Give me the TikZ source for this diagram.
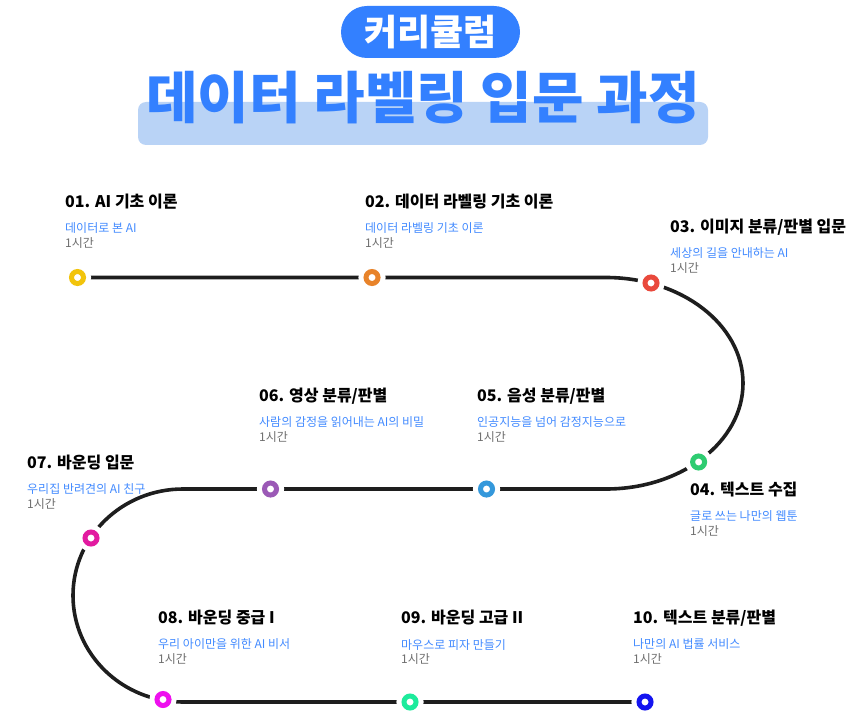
\documentclass[tikz,border=0pt]{standalone}
\usepackage{fontspec}
\setmainfont{Noto Sans CJK KR}
\newfontfamily\krblack{Noto Sans CJK KR Black}
\definecolor{brand}{RGB}{51,128,255}
\definecolor{barc}{RGB}{185,211,246}
\definecolor{subc}{RGB}{66,138,255}
\definecolor{hourc}{RGB}{110,110,110}
\definecolor{trackc}{RGB}{30,30,30}
\definecolor{c1}{RGB}{242,196,12}
\definecolor{c2}{RGB}{232,131,42}
\definecolor{c3}{RGB}{233,73,60}
\definecolor{c4}{RGB}{46,204,113}
\definecolor{c5}{RGB}{52,152,219}
\definecolor{c6}{RGB}{155,89,182}
\definecolor{c7}{RGB}{226,27,160}
\definecolor{c8}{RGB}{238,16,238}
\definecolor{c9}{RGB}{29,235,156}
\definecolor{c10}{RGB}{20,20,240}
\tikzset{
  steptitle/.style={anchor=west, inner sep=0pt, font=\bfseries\fontsize{16}{18}\selectfont, text=black},
  stepsub/.style={anchor=west, inner sep=0pt, font=\fontsize{12}{14}\selectfont, text=subc},
  stephour/.style={anchor=west, inner sep=0pt, font=\fontsize{12}{14}\selectfont, text=hourc},
  marker/.style={circle, draw=#1, line width=5pt, fill=white, inner sep=0pt, minimum size=12pt,
    preaction={draw=white, line width=15pt}},
  track/.style={line width=3.6pt, draw=trackc},
}
\newcommand\stage[5]{%
  \node[steptitle] (t#1) at (#2,-#3) {#4};
  \node[stepsub] (s#1) at (#2,-#3-26.5) {#5};
  \node[stephour] (h#1) at (#2,-#3-41) {1시간};
}
\begin{document}
\begin{tikzpicture}[x=1pt,y=1pt]
\useasboundingbox (0,0) rectangle (864,-722);
% header
\node[fill=brand, rounded corners=26pt, minimum width=179pt, minimum height=52pt, inner sep=0pt,
  text=white, font=\krblack\fontsize{36}{36}\selectfont] (pill) at (430.5,-32) {커리큘럼};
\node[fill=barc, rounded corners=8pt, minimum width=570pt, minimum height=43pt, inner sep=0pt] (bar) at (423,-123.5) {};
\node[text=brand, inner sep=0pt, font=\krblack\fontsize{56}{56}\selectfont] (title) at (423,-97.5) {데이터 라벨링 입문 과정};
% track
\coordinate (p1) at (77.5,-277.5);
\coordinate (p10) at (645,-702);
\draw[track] (p1) -- (606,-277.5) arc[start angle=90, end angle=-90, x radius=137, y radius=105.75]
  -- (183,-489) arc[start angle=90, end angle=270, x radius=110, y radius=106.5] -- (p10);
% markers
\node[marker=c1] (m1) at (p1) {};
\node[marker=c2] (m2) at (372,-277.5) {};
\node[marker=c3] (m3) at (651,-283) {};
\node[marker=c4] (m4) at (698.6,-462) {};
\node[marker=c5] (m5) at (486.5,-489) {};
\node[marker=c6] (m6) at (270.5,-489) {};
\node[marker=c7] (m7) at (91,-538) {};
\node[marker=c8] (m8) at (163,-699.5) {};
\node[marker=c9] (m9) at (410,-702) {};
\node[marker=c10] (m10) at (p10) {};
% labels
\stage{1}{65}{202}{01. AI 기초 이론}{데이터로 본 AI}
\stage{2}{365}{202}{02. 데이터 라벨링 기초 이론}{데이터 라벨링 기초 이론}
\stage{3}{670}{227}{03. 이미지 분류/판별 입문}{세상의 길을 안내하는 AI}
\stage{4}{690}{490}{04. 텍스트 수집}{글로 쓰는 나만의 웹툰}
\stage{5}{477}{396}{05. 음성 분류/판별}{인공지능을 넘어 감정지능으로}
\stage{6}{259}{396}{06. 영상 분류/판별}{사람의 감정을 읽어내는 AI의 비밀}
\stage{7}{27}{463}{07. 바운딩 입문}{우리집 반려견의 AI 친구}
\stage{8}{158}{618}{08. 바운딩 중급 I}{우리 아이만을 위한 AI 비서}
\stage{9}{401}{618}{09. 바운딩 고급 II}{마우스로 피자 만들기}
\stage{10}{633}{618}{10. 텍스트 분류/판별}{나만의 AI 법률 서비스}
\end{tikzpicture}
\end{document}
